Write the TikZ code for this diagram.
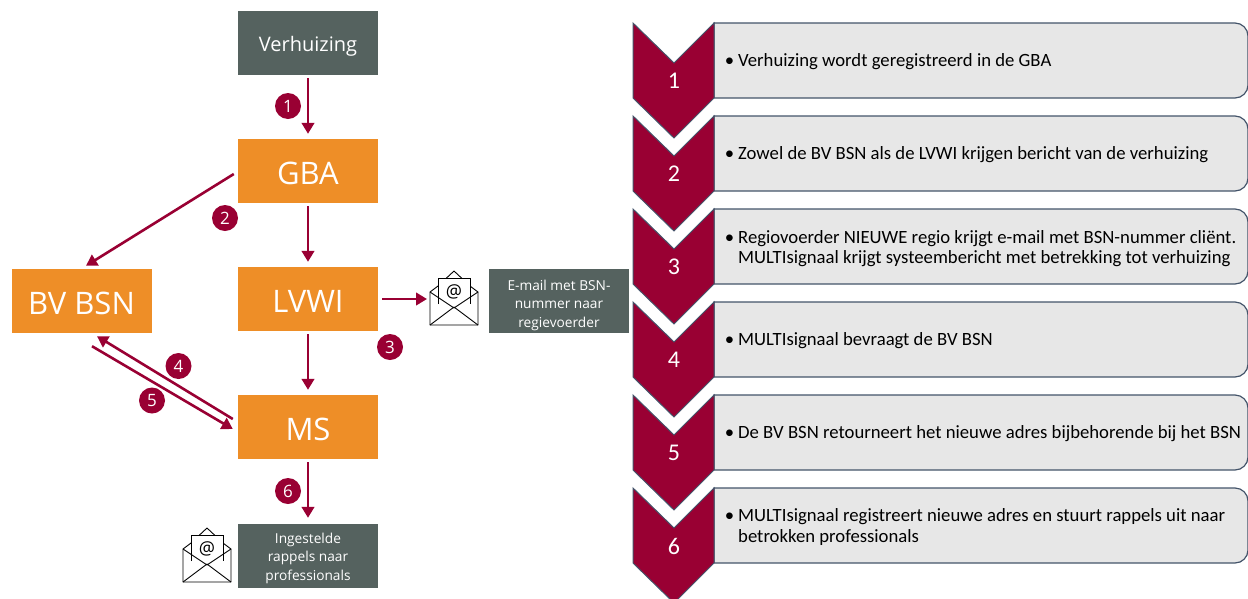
\documentclass[tikz,border=0pt]{standalone}
\usepackage{fontspec}
\setmainfont{Open Sans}
\newfontfamily\stepfont{Carlito}
\usetikzlibrary{arrows.meta}

\definecolor{crimson}{HTML}{990033}
\definecolor{blockorange}{HTML}{EE8E27}
\definecolor{slate}{HTML}{55625F}
\definecolor{panel}{HTML}{E7E7E7}
\definecolor{panelline}{HTML}{44546A}

\tikzset{
  orangebox/.style = {fill=blockorange, text=white, minimum width=140pt, minimum height=64pt, inner sep=0pt,
    text height=26.5pt, text depth=0pt, font=\fontsize{31}{34}\selectfont},
  slatebox/.style = {fill=slate, text=white, minimum width=140pt, minimum height=64pt, inner sep=0pt,
    align=center},
  badge/.style = {circle, fill=crimson, text=white, minimum size=26pt, inner sep=0pt,
    font=\fontsize{17}{20}\selectfont},
  flow/.style = {draw=crimson, line width=2.6pt, -{Triangle[length=11pt,width=12.5pt]}},
  chevron/.style = {fill=crimson, draw=panelline, line width=1pt, line join=miter},
  panelbar/.style = {fill=panel, draw=panelline, line width=1.2pt},
  stepnum/.style = {text=white, font=\stepfont\fontsize{24}{28}\selectfont},
  steptext/.style = {anchor=west, align=left, inner sep=0pt, font=\stepfont\fontsize{18.7}{20.5}\selectfont},
  mailicon/.pic = {
    \draw[line width=0.9pt, line join=round, fill=white] (0,21) -- (8,15) -- (24,0) -- (40,15) -- (48,21) -- (48,54) -- (0,54) -- cycle;
    \draw[line width=0.9pt, fill=white] (8,33) -- (8,7) -- (40,7) -- (40,33);
    \draw[line width=0.9pt, line join=round] (0,21) -- (24,37) -- (48,21);
    \draw[line width=0.9pt, line join=round] (0,54) -- (24,36) -- (48,54);
    \node[inner sep=0pt, font=\fontsize{18}{18}\selectfont] at (24,21) {@};
  },
}

\begin{document}
\begin{tikzpicture}[x=1pt, y=-1pt]
  \clip (0,0) rectangle (1248,598);

  \node[slatebox, text height=17pt, text depth=0pt, font=\fontsize{20}{22}\selectfont] (verhuizing) at (308,43) {Verhuizing};
  \node[orangebox] (gba) at (308,171) {GBA};
  \node[orangebox] (lvwi) at (308,299) {LVWI};
  \node[orangebox] (ms) at (308,427) {MS};
  \node[orangebox] (bvbsn) at (81.5,301) {BV BSN};
  \node[slatebox, font=\fontsize{13.7}{18.5}\selectfont] (email) at (559,301) {\rule{0pt}{19pt}E-mail met BSN-\\nummer naar\\regievoerder};
  \node[slatebox, font=\fontsize{13.7}{18.5}\selectfont] (rappels) at (308,556) {\rule{0pt}{15pt}Ingestelde\\rappels naar\\professionals};

  \pic at (430,271) {mailicon};
  \pic at (183,528) {mailicon};
  \coordinate (mailin) at (427,299);

  \draw[flow] ([yshift=-3pt]verhuizing.south) -- ([yshift=5pt]gba.north);
  \draw[flow] ([xshift=-4pt,yshift=-3pt]gba.west) -- ([xshift=4.5pt,yshift=3pt]bvbsn.north);
  \draw[flow] ([yshift=-3pt]gba.south) -- ([yshift=5pt]lvwi.north);
  \draw[flow] ([yshift=-3pt]lvwi.south) -- ([yshift=5pt]ms.north);
  \draw[flow] ([yshift=-3pt]ms.south) -- ([yshift=6pt]rappels.north);
  \draw[flow] ([xshift=4pt]lvwi.east) -- (mailin);
  \draw[flow] ([xshift=-5pt,yshift=8pt]ms.west) -- ([xshift=15.5pt,yshift=-3pt]bvbsn.south);
  \draw[flow] ([xshift=10.5pt,yshift=-13pt]bvbsn.south) -- ([xshift=-5pt,yshift=-2pt]ms.west);

  \node[badge] (b1) at (288,106) {1};
  \node[badge] (b2) at (225,218) {2};
  \node[badge] (b3) at (390,347) {3};
  \node[badge] (b4) at (178.5,366) {4};
  \node[badge] (b5) at (152,400.5) {5};
  \node[badge] (b6) at (288,491) {6};

  \foreach \y in {23,116,209,302,395,488} {
    \draw[panelbar] (714,\y) -- (1235,\y) arc[start angle=-90, end angle=0, radius=13] -- (1248,\y+62)
      arc[start angle=0, end angle=90, radius=13] -- (714,\y+75) -- cycle;
    \draw[chevron] (633,\y) -- (674,\y+40) -- (714,\y) -- (714,\y+75) -- (674,\y+115) -- (633,\y+75) -- cycle;
  }

  \node[stepnum] (n1) at (674,81) {1};
  \node[stepnum] (n2) at (674,174) {2};
  \node[stepnum] (n3) at (674,267) {3};
  \node[stepnum] (n4) at (674,360) {4};
  \node[stepnum] (n5) at (674,453) {5};
  \node[stepnum] (n6) at (674,546) {6};

  \node[steptext] (t1) at (738,62) {\llap{\textbullet\hspace{4pt}}Verhuizing wordt geregistreerd in de GBA};
  \node[steptext] (t2) at (738,155) {\llap{\textbullet\hspace{4pt}}Zowel de BV BSN als de LVWI krijgen bericht van de verhuizing};
  \node[steptext] (t3) at (738,248.5) {\llap{\textbullet\hspace{4pt}}Regiovoerder NIEUWE regio krijgt e-mail met BSN-nummer cliënt.\\MULTIsignaal krijgt systeembericht met betrekking tot verhuizing};
  \node[steptext] (t4) at (738,341) {\llap{\textbullet\hspace{4pt}}MULTIsignaal bevraagt de BV BSN};
  \node[steptext] (t5) at (738,434) {\llap{\textbullet\hspace{4pt}}De BV BSN retourneert het nieuwe adres bijbehorende bij het BSN};
  \node[steptext] (t6) at (738,527) {\llap{\textbullet\hspace{4pt}}MULTIsignaal registreert nieuwe adres en stuurt rappels uit naar\\betrokken professionals};
\end{tikzpicture}
\end{document}
